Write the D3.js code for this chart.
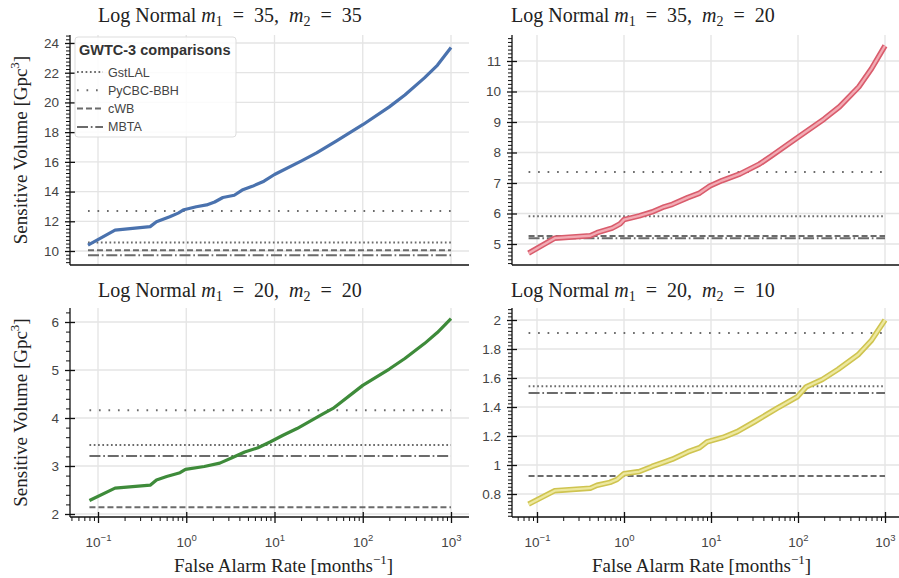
<!DOCTYPE html>
<html>
<head>
<meta charset="utf-8">
<script src="https://cdn.jsdelivr.net/npm/d3@7"></script>
<style>
  body { margin: 0; background: #fff; }
  svg { display: block; }
</style>
</head>
<body>
<div id="chart"></div>
<script>
// false alarm rate (months^-1) and sensitive volume (Gpc^3)
const farA = [0.077, 0.156, 0.39, 0.46, 0.65, 0.81, 0.94, 1.3, 1.7, 2.1, 2.6, 3.5, 4.3, 5.6, 7.6, 10, 20, 30, 50, 100, 200, 300, 500, 700, 1000];
const volA = [10.4, 11.4, 11.64, 11.97, 12.3, 12.55, 12.78, 12.98, 13.1, 13.3, 13.6, 13.75, 14.1, 14.35, 14.7, 15.15, 16.05, 16.6, 17.4, 18.5, 19.7, 20.5, 21.65, 22.5, 23.7];

const farB = [0.08, 0.16, 0.41, 0.49, 0.73, 0.9, 1.0, 1.5, 2.1, 2.9, 3.6, 5.4, 7.4, 9.7, 13.4, 21.6, 36, 49, 100, 200, 300, 500, 700, 1000];
const volB = [4.7, 5.19, 5.27, 5.37, 5.52, 5.66, 5.8, 5.92, 6.05, 6.22, 6.3, 6.52, 6.67, 6.9, 7.08, 7.3, 7.62, 7.88, 8.5, 9.1, 9.5, 10.15, 10.75, 11.5];

const farC = [0.08, 0.156, 0.39, 0.46, 0.6, 0.85, 0.98, 1.6, 2.4, 3.3, 4.6, 6.5, 8.9, 12.5, 18, 35, 46, 100, 200, 300, 500, 700, 1000];
const volC = [2.28, 2.54, 2.6, 2.71, 2.78, 2.86, 2.93, 2.99, 3.06, 3.17, 3.29, 3.38, 3.5, 3.64, 3.78, 4.08, 4.2, 4.68, 5.02, 5.24, 5.55, 5.78, 6.07];

const farD = [0.08, 0.16, 0.41, 0.49, 0.69, 0.83, 1.0, 1.5, 2.1, 2.9, 3.6, 5.4, 7.4, 9, 13.7, 20, 32, 57, 98, 125, 190, 290, 490, 700, 1000];
const volD = [0.73, 0.823, 0.84, 0.86, 0.88, 0.9, 0.94, 0.955, 0.99, 1.02, 1.04, 1.09, 1.12, 1.16, 1.19, 1.23, 1.3, 1.39, 1.47, 1.54, 1.59, 1.66, 1.76, 1.86, 2.0];

// GWTC-3 pipeline comparisons, one value per panel
const gstlal = [10.58, 5.91, 3.44, 1.543];
const pycbc  = [12.69, 7.36, 4.16, 1.91];
const cwb    = [10.05, 5.26, 2.14, 0.925];
const mbta   = [9.71, 5.19, 3.21, 1.497];

const mass1 = [35, 35, 20, 20];
const mass2 = [35, 20, 20, 10];

const xTicks = [0.1, 1, 10, 100, 1000];
const xExp = ["−1", "0", "1", "2", "3"];
const yTicksA = [10, 12, 14, 16, 18, 20, 22, 24];
const yTicksB = [5, 6, 7, 8, 9, 10, 11];
const yTicksC = [2, 3, 4, 5, 6];
const yTicksD = [0.8, 1, 1.2, 1.4, 1.6, 1.8, 2];

const W = 899, H = 578;
const serif = "'Liberation Serif', 'DejaVu Serif', serif";
const sans = "'Liberation Sans', Arial, sans-serif";
const gray = "#6b6b6b";

const styles = [
  {name: "GstLAL", vals: gstlal, dash: "1.7,2.6"},
  {name: "PyCBC-BBH", vals: pycbc, dash: "1.7,7.8"},
  {name: "cWB", vals: cwb, dash: "6,3"},
  {name: "MBTA", vals: mbta, dash: "11,2.8,1.7,2.8"}
];

const panels = [
  {far: farA, vol: volA, ticks: yTicksA, yd: [10, 24], yr: [251, 43], minor: 0.25,
   left: 70, right: 469, top: 35, bottom: 265, xr: [98, 451], color: "#4a72ae", band: false, ylab: true, xlab: false},
  {far: farB, vol: volB, ticks: yTicksB, yd: [5, 11], yr: [244, 61], minor: 0.125,
   left: 512, right: 903, top: 35, bottom: 265, xr: [537, 885], color: "#d95c6c", light: "#f2abb4", band: true, ylab: false, xlab: false},
  {far: farC, vol: volC, ticks: yTicksC, yd: [2, 6], yr: [514, 322], minor: 0.2,
   left: 70, right: 469, top: 308, bottom: 517, xr: [98, 451], color: "#3e8b3a", band: false, ylab: true, xlab: true},
  {far: farD, vol: volD, ticks: yTicksD, yd: [0.8, 2], yr: [494, 320], minor: 0.025,
   left: 512, right: 903, top: 308, bottom: 517, xr: [537, 885], color: "#cfc450", light: "#ede89f", band: true, ylab: false, xlab: true}
];

const svg = d3.select("#chart").append("svg")
  .attr("width", W).attr("height", H);

panels.forEach((p, i) => {
  const x = d3.scaleLog().domain([0.1, 1000]).range(p.xr);
  const y = d3.scaleLinear().domain(p.yd).range(p.yr);
  const g = svg.append("g");

  // grid
  g.selectAll(".gx").data(xTicks).enter().append("line")
    .attr("x1", d => x(d)).attr("x2", d => x(d))
    .attr("y1", p.top).attr("y2", p.bottom)
    .attr("stroke", "#e4e4e4").attr("stroke-width", 1.3);
  g.selectAll(".gy").data(p.ticks).enter().append("line")
    .attr("x1", p.left).attr("x2", p.right)
    .attr("y1", d => y(d)).attr("y2", d => y(d))
    .attr("stroke", "#e4e4e4").attr("stroke-width", 1.3);

  // pipeline reference lines span the curve's FAR range
  const x0 = d3.min(p.far), x1 = d3.max(p.far);
  styles.forEach(s => {
    g.append("line")
      .attr("x1", x(x0)).attr("x2", x(x1))
      .attr("y1", y(s.vals[i])).attr("y2", y(s.vals[i]))
      .attr("stroke", gray).attr("stroke-width", 2)
      .attr("stroke-dasharray", s.dash);
  });

  // the curve
  const line = d3.line().x((d, j) => x(p.far[j])).y(d => y(d));
  if (p.band) {
    g.append("path").attr("d", line(p.vol)).attr("fill", "none")
      .attr("stroke", p.color).attr("stroke-width", 5.5).attr("stroke-linejoin", "round");
    g.append("path").attr("d", line(p.vol)).attr("fill", "none")
      .attr("stroke", p.light).attr("stroke-width", 2.3).attr("stroke-linejoin", "round");
  } else {
    g.append("path").attr("d", line(p.vol)).attr("fill", "none")
      .attr("stroke", p.color).attr("stroke-width", 3.2).attr("stroke-linejoin", "round");
  }

  // y axis: minor ticks out, major ticks in-out
  const lo = y.invert(p.bottom), hi = y.invert(p.top);
  const minors = d3.range(Math.ceil(lo / p.minor) * p.minor, hi, p.minor)
    .filter(v => !p.ticks.some(t => Math.abs(t - v) < 1e-6));
  const yMinor = g.append("g").attr("transform", `translate(${p.left},0)`)
    .call(d3.axisLeft(y).tickValues(minors).tickSize(4).tickFormat(""));
  yMinor.select(".domain").remove();
  yMinor.selectAll("line").attr("stroke", "#111").attr("stroke-width", 1);

  const yAxis = g.append("g").attr("transform", `translate(${p.left},0)`)
    .call(d3.axisLeft(y).tickValues(p.ticks).tickSize(5).tickPadding(6).tickSizeOuter(0)
      .tickFormat(d3.format("")));
  yAxis.select(".domain").attr("d", `M0,${p.top}V${p.bottom}`).attr("stroke", "#111").attr("stroke-width", 1.3);
  yAxis.selectAll(".tick line").attr("x1", 5).attr("stroke", "#111").attr("stroke-width", 1.3);
  yAxis.selectAll(".tick text").attr("font-family", sans).attr("font-size", 13.5).attr("fill", "#444");

  // x axis
  const xb = g.append("g").attr("transform", `translate(0,${p.bottom})`);
  xb.append("line").attr("x1", p.left).attr("x2", p.right)
    .attr("stroke", "#111").attr("stroke-width", 1.3);
  if (p.xlab) {
    const xl = x.invert(p.left), xh = x.invert(p.right);
    const xMinor = [];
    for (let e = -2; e <= 3; e++) for (let m = 2; m <= 9; m++) {
      const v = m * Math.pow(10, e);
      if (v >= xl && v <= xh) xMinor.push(v);
    }
    const xm = xb.append("g").call(d3.axisBottom(x).tickValues(xMinor).tickSize(4).tickFormat(""));
    xm.select(".domain").remove();
    xm.selectAll("line").attr("stroke", "#111").attr("stroke-width", 1);

    const xa = xb.append("g").call(d3.axisBottom(x).tickValues(xTicks).tickSize(6).tickPadding(14).tickFormat(""));
    xa.select(".domain").remove();
    xa.selectAll(".tick line").attr("y1", -5).attr("stroke", "#111").attr("stroke-width", 1.3);
    xa.selectAll(".tick text").each(function(d, j) {
      const t = d3.select(this).attr("font-family", sans).attr("font-size", 13.5).attr("fill", "#444")
        .attr("text-anchor", "middle");
      t.append("tspan").text("10");
      t.append("tspan").attr("font-size", 9.5).attr("dy", -6).text(xExp[j]);
    });

    svg.append("text")
      .attr("x", (p.left + p.right) / 2 + (p.band ? -6 : 14)).attr("y", 572)
      .attr("text-anchor", "middle").attr("font-family", serif).attr("font-size", 19).attr("fill", "#222")
      .call(t => {
        t.append("tspan").text("False Alarm Rate [months");
        t.append("tspan").attr("font-size", 13).attr("dy", -8).text("−1");
        t.append("tspan").attr("dy", 8).text("]");
      });
  }

  // title
  svg.append("text")
    .attr("x", p.band ? 511 : 98).attr("y", p.top - 13 + (p.top > 100 ? 2 : 0))
    .attr("font-family", serif).attr("font-size", 20).attr("fill", "#222")
    .attr("xml:space", "preserve")
    .call(t => {
      t.append("tspan").text("Log Normal ");
      t.append("tspan").attr("font-style", "italic").text("m");
      t.append("tspan").attr("font-size", 14).attr("dy", 4).text("1");
      t.append("tspan").attr("dy", -4).text(`  =  ${mass1[i]},  `);
      t.append("tspan").attr("font-style", "italic").text("m");
      t.append("tspan").attr("font-size", 14).attr("dy", 4).text("2");
      t.append("tspan").attr("dy", -4).text(`  =  ${mass2[i]}`);
    });

  if (p.ylab) {
    const cy = (p.top + p.bottom) / 2;
    svg.append("text")
      .attr("transform", `translate(27,${cy}) rotate(-90)`)
      .attr("text-anchor", "middle").attr("font-family", serif).attr("font-size", 19).attr("fill", "#222")
      .call(t => {
        t.append("tspan").text("Sensitive Volume [Gpc");
        t.append("tspan").attr("font-size", 13).attr("dy", -8).text("3");
        t.append("tspan").attr("dy", 8).text("]");
      });
  }
});

// legend in the first panel
const lg = svg.append("g").attr("transform", "translate(75,37)");
lg.append("rect").attr("width", 161).attr("height", 100).attr("rx", 3)
  .attr("fill", "#fff").attr("fill-opacity", 0.85).attr("stroke", "#dddddd");
lg.append("text").attr("x", 4).attr("y", 18)
  .attr("font-family", sans).attr("font-size", 14.5).attr("font-weight", "bold").attr("fill", "#333")
  .text("GWTC-3 comparisons");
const items = lg.selectAll(".item").data(styles).enter().append("g")
  .attr("transform", (d, j) => `translate(0,${35 + j * 18.3})`);
items.append("line").attr("x1", 2).attr("x2", 28)
  .attr("stroke", gray).attr("stroke-width", 2).attr("stroke-dasharray", d => d.dash);
items.append("text").attr("x", 33).attr("y", 4.5)
  .attr("font-family", sans).attr("font-size", 12.5).attr("fill", "#444")
  .text(d => d.name);
</script>
</body>
</html>
